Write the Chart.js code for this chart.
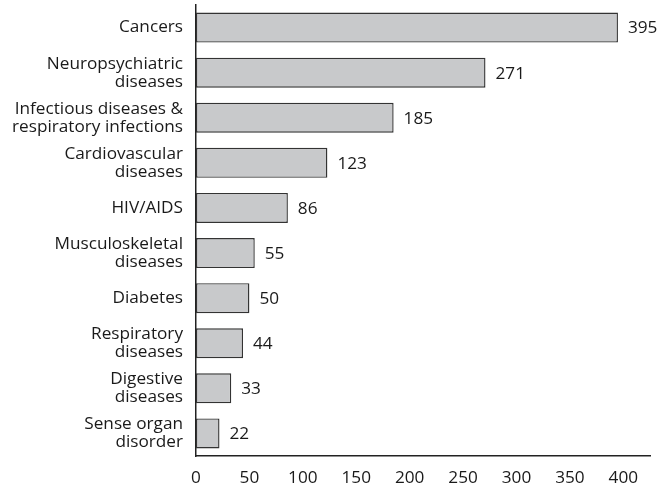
<!DOCTYPE html>
<html>
<head>
<meta charset="utf-8">
<script src="https://cdn.jsdelivr.net/npm/chart.js@4"></script>
<style>
html,body{margin:0;padding:0;background:#fff;}
#wrap{width:661px;height:488px;position:relative;}
</style>
</head>
<body>
<div id="wrap"><canvas id="c" width="661" height="488"></canvas></div>
<script>
const categories = [
  ["Cancers"],
  ["Neuropsychiatric", "diseases"],
  ["Infectious diseases &", "respiratory infections"],
  ["Cardiovascular", "diseases"],
  ["HIV/AIDS"],
  ["Musculoskeletal", "diseases"],
  ["Diabetes"],
  ["Respiratory", "diseases"],
  ["Digestive", "diseases"],
  ["Sense organ", "disorder"]
];
const values = [395, 271, 185, 123, 86, 55, 50, 44, 33, 22];
const xTicks = [0, 50, 100, 150, 200, 250, 300, 350, 400];

const FONT = "'Open Sans', 'Noto Sans', sans-serif";
const FS = 17.2;

const valueLabels = {
  id: 'valueLabels',
  afterDatasetsDraw(chart) {
    const ctx = chart.ctx;
    const meta = chart.getDatasetMeta(0);
    ctx.save();
    ctx.font = FS + "px " + FONT;
    ctx.fillStyle = "#1a1a1a";
    ctx.textAlign = "left";
    ctx.textBaseline = "middle";
    meta.data.forEach((bar, i) => {
      ctx.fillText(String(values[i]), bar.x + 10, bar.y + 1);
    });
    ctx.restore();
  }
};

new Chart(document.getElementById('c'), {
  type: 'bar',
  data: {
    labels: categories,
    datasets: [{
      data: values,
      backgroundColor: '#c8c9cb',
      borderColor: '#333333',
      borderWidth: 1.4,
      borderSkipped: false,
      categoryPercentage: 1,
      barPercentage: 0.665
    }]
  },
  options: {
    indexAxis: 'y',
    responsive: false,
    animation: false,
    devicePixelRatio: 1,
    layout: { padding: { top: 5, right: 11, left: 0, bottom: 0 } },
    plugins: { legend: { display: false }, tooltip: { enabled: false } },
    scales: {
      x: {
        min: 0,
        max: 425,
        afterBuildTicks(scale) { scale.ticks = xTicks.map(v => ({ value: v })); },
        afterFit(scale) { scale.height = 32; scale.paddingLeft = 0; scale.paddingRight = 0; },
        grid: { display: false, drawTicks: false },
        border: { display: true, color: '#222', width: 1.5 },
        ticks: { color: '#1a1a1a', font: { family: FONT, size: FS }, padding: 12, maxRotation: 0 }
      },
      y: {
        afterFit(scale) { scale.width = 196; scale.paddingTop = 0; scale.paddingBottom = 0; },
        grid: { display: false, drawTicks: false },
        border: { display: true, color: '#222', width: 1.5 },
        ticks: { color: '#1a1a1a', font: { family: FONT, size: FS, lineHeight: 1.05 }, padding: 13, crossAlign: 'near' }
      }
    }
  },
  plugins: [valueLabels]
});
</script>
</body>
</html>
